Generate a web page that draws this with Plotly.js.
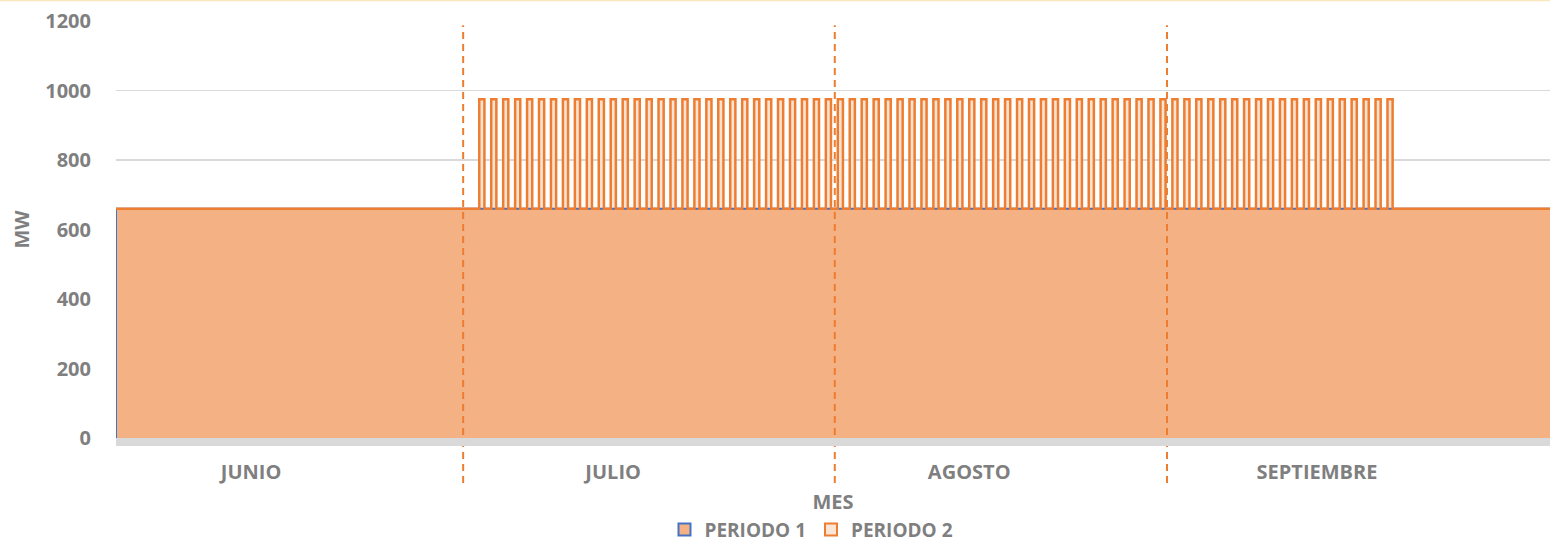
<!DOCTYPE html>
<html>
<head>
<meta charset="utf-8">
<script src="https://cdn.plot.ly/plotly-3.0.1.min.js"></script>
<style>html,body{margin:0;padding:0;background:#fff}#chart{width:1550px;height:545px}</style>
</head>
<body>
<div id="chart"></div>
<script>
// ---- Data ----
const meses = ["JUNIO", "JULIO", "AGOSTO", "SEPTIEMBRE"];
const posEtiquetasMes = [11.3, 41.6, 71.4, 100.5];   // day-index where month labels sit
const limitesMes = [29.05, 60.15, 87.95];           // month boundary lines (day-index)

// daily demand, PERIODO 1 (base, MW) - 120 days
const periodo1 = [
  660,660,660,660,660,660,660,660,660,660,
  660,660,660,660,660,660,660,660,660,660,
  660,660,660,660,660,660,660,660,660,660,
  660,660,660,660,660,660,660,660,660,660,
  660,660,660,660,660,660,660,660,660,660,
  660,660,660,660,660,660,660,660,660,660,
  660,660,660,660,660,660,660,660,660,660,
  660,660,660,660,660,660,660,660,660,660,
  660,660,660,660,660,660,660,660,660,660,
  660,660,660,660,660,660,660,660,660,660,
  660,660,660,660,660,660,660,660,660,660,
  660,660,660,660,660,660,660,660,660,660
];
// daily peak, PERIODO 2 (MW) - 120 days
const periodo2 = [
  660,660,660,660,660,660,660,660,660,660,
  660,660,660,660,660,660,660,660,660,660,
  660,660,660,660,660,660,660,660,660,660,
  975,975,975,975,975,975,975,975,975,975,
  975,975,975,975,975,975,975,975,975,975,
  975,975,975,975,975,975,975,975,975,975,
  975,975,975,975,975,975,975,975,975,975,
  975,975,975,975,975,975,975,975,975,975,
  975,975,975,975,975,975,975,975,975,975,
  975,975,975,975,975,975,975,975,975,975,
  975,975,975,975,975,975,975,660,660,660,
  660,660,660,660,660,660,660,660,660,660
];

// ---- Build paths ----
const nDias = periodo1.length;
const p1x = [0], p1y = [0];
for (let d = 0; d < nDias; d++) { p1x.push(d); p1y.push(periodo1[d]); }
p1x.push(nDias); p1y.push(periodo1[nDias - 1]);

const inicioPico = 0.40, finPico = 0.83; // fraction of the day where the peak occurs
const p2x = [], p2y = [];
for (let d = 0; d < nDias; d++) {
  p2x.push(d); p2y.push(periodo1[d]);
  if (periodo2[d] > periodo1[d]) {
    p2x.push(d + inicioPico); p2y.push(periodo2[d]);
    p2x.push(d + finPico); p2y.push(periodo1[d]);
  }
}
p2x.push(nDias); p2y.push(periodo1[nDias - 1]);

const azul = '#4472C4', naranja = '#ED7D31';
const fuente = {family: '"Open Sans", sans-serif', size: 20, color: '#7f7f7f', weight: 'bold'};
const fuenteLeyenda = {family: '"Open Sans", sans-serif', size: 19, color: '#7f7f7f', weight: 'bold'};

const traces = [
  {x: p1x, y: p1y, type: 'scatter', mode: 'lines', line: {shape: 'hv', color: azul, width: 2},
   fill: 'tozeroy', fillcolor: '#F4B183', showlegend: false, hoverinfo: 'skip'},
  {x: p2x, y: p2y, type: 'scatter', mode: 'lines', line: {shape: 'hv', color: naranja, width: 2.5},
   fill: 'tonexty', fillcolor: '#FBE3D4', showlegend: false, hoverinfo: 'skip'},
  {x: [-10], y: [0], type: 'bar', name: 'PERIODO 1', marker: {color: '#F4B183', line: {color: azul, width: 2}}},
  {x: [-10], y: [0], type: 'bar', name: 'PERIODO 2', marker: {color: '#FBE5D6', line: {color: naranja, width: 2}}}
];

const shapes = [];
limitesMes.forEach(x => shapes.push({type: 'line', xref: 'x', yref: 'paper', x0: x, x1: x,
  y0: -0.108, y1: 0.99, line: {color: naranja, width: 2, dash: '7px,5px'}, layer: 'above'}));
shapes.push({type: 'rect', xref: 'paper', yref: 'paper', x0: 0, x1: 1, y0: -0.019, y1: 0,
  fillcolor: '#D9D9D9', line: {width: 0}, layer: 'above'});
shapes.push({type: 'line', xref: 'paper', yref: 'paper', x0: -0.081, x1: 1, y0: 1.0492, y1: 1.0492,
  line: {color: '#FCE6BE', width: 1.5}});

const layout = {
  width: 1550, height: 545,
  margin: {l: 116, r: 0, t: 21, b: 107, autoexpand: false},
  paper_bgcolor: '#ffffff', plot_bgcolor: '#ffffff',
  font: fuente,
  showlegend: true,
  barmode: 'overlay',
  legend: {orientation: 'h', traceorder: 'normal', x: 0.485, xanchor: 'center', y: -0.22, yanchor: 'middle',
    font: fuenteLeyenda, tracegroupgap: 0, itemwidth: 30},
  xaxis: {range: [0, nDias], tickvals: posEtiquetasMes, ticktext: meses, showgrid: false, zeroline: false,
    showline: false, ticks: 'outside', ticklen: 16, tickcolor: 'rgba(0,0,0,0)', tickfont: fuente, automargin: false,
    title: {text: 'MES', font: fuente, standoff: 10}, fixedrange: true},
  yaxis: {range: [0, 1200], dtick: 200, showgrid: true, gridcolor: '#D9D9D9', gridwidth: 1.5, automargin: false,
    zeroline: false, showline: false, ticks: 'outside', ticklen: 20, tickcolor: 'rgba(0,0,0,0)',
    tickfont: fuente, title: {text: 'MW', font: fuente, standoff: 10}, fixedrange: true},
  shapes: shapes
};

Plotly.newPlot('chart', traces, layout, {displayModeBar: false, staticPlot: true});
</script>
</body>
</html>
